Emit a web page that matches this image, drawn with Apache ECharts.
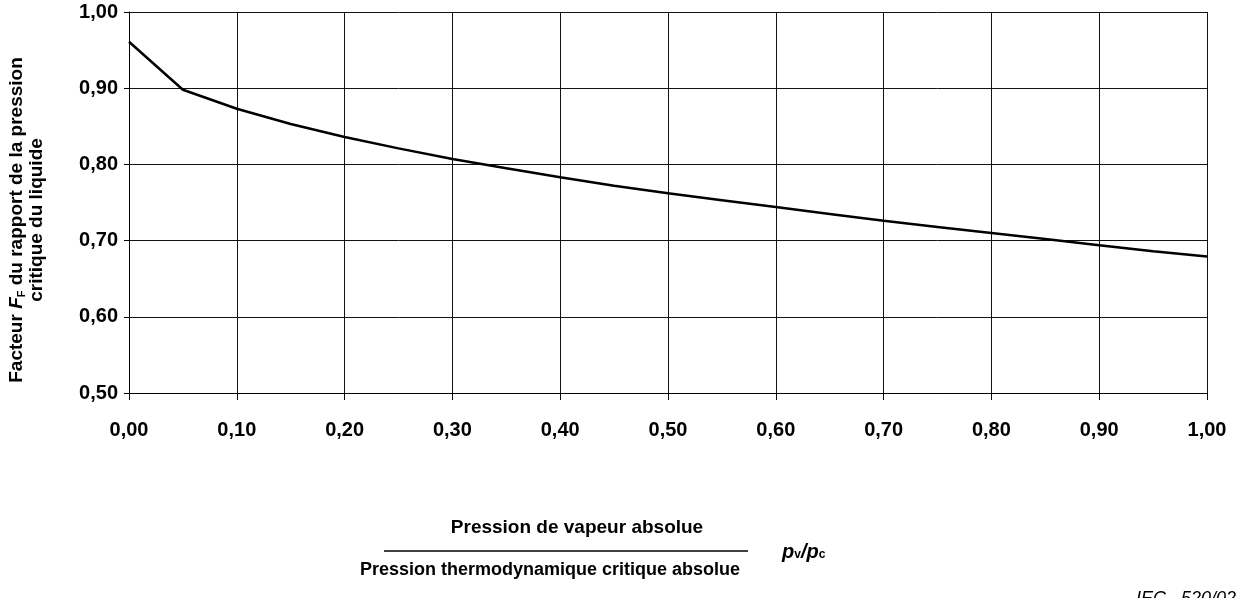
<!DOCTYPE html>
<html>
<head>
<meta charset="utf-8">
<style>
  html, body { margin: 0; padding: 0; background: #fff; }
  #chart { width: 1244px; height: 598px; }
</style>
<script src="https://cdn.jsdelivr.net/npm/echarts@6/dist/echarts.min.js"></script>
</head>
<body>
<div id="chart"></div>
<script>
// Ratio pv/pc (abscissa) and liquid critical pressure ratio factor FF
const ratioPvPc = [0.00, 0.05, 0.10, 0.15, 0.20, 0.25, 0.30, 0.35, 0.40, 0.45, 0.50,
                   0.55, 0.60, 0.65, 0.70, 0.75, 0.80, 0.85, 0.90, 0.95, 1.00];
const factorFF  = [0.961, 0.898, 0.873, 0.853, 0.836, 0.821, 0.807, 0.795, 0.783, 0.772, 0.762,
                   0.753, 0.744, 0.735, 0.726, 0.718, 0.710, 0.702, 0.694, 0.686, 0.679];

const FONT = "'Liberation Sans', Arial, Helvetica, sans-serif";
const fmt = v => v.toFixed(2).replace('.', ',');

const chart = echarts.init(document.getElementById('chart'), null, { renderer: 'canvas' });

chart.setOption({
  backgroundColor: '#ffffff',
  animation: false,
  grid: { left: 129, right: 37, top: 12, bottom: 205 },
  xAxis: {
    type: 'value',
    min: 0, max: 1, interval: 0.1,
    axisLine: { show: true, lineStyle: { color: '#000', width: 1 } },
    axisTick: { show: true, length: 7, lineStyle: { color: '#000', width: 1 } },
    splitLine: { show: true, lineStyle: { color: '#111', width: 1 } },
    axisLabel: { formatter: fmt, color: '#000', fontFamily: FONT, fontWeight: 'bold', fontSize: 20, margin: 27 }
  },
  yAxis: {
    type: 'value',
    min: 0.5, max: 1, interval: 0.1,
    axisLine: { show: true, lineStyle: { color: '#000', width: 1 } },
    axisTick: { show: true, length: 5, lineStyle: { color: '#000', width: 1 } },
    splitLine: { show: true, lineStyle: { color: '#111', width: 1 } },
    axisLabel: { formatter: fmt, color: '#000', fontFamily: FONT, fontWeight: 'bold', fontSize: 20, margin: 11 }
  },
  series: [{
    type: 'line',
    data: ratioPvPc.map((x, i) => [x, factorFF[i]]),
    showSymbol: false,
    lineStyle: { color: '#000', width: 2.5 },
    silent: true
  }],
  graphic: [
    {
      type: 'text',
      x: 27, y: 220,
      rotation: Math.PI / 2,
      style: {
        text: 'Facteur {i|F}{sub|F} du rapport de la pression\ncritique du liquide',
        fill: '#000',
        font: 'bold 19px ' + FONT,
        align: 'center',
        verticalAlign: 'middle',
        lineHeight: 20,
        rich: {
          i: { fontStyle: 'italic', fontWeight: 'bold', fontSize: 19, fontFamily: FONT },
          sub: { fontWeight: 'bold', fontSize: 11, fontFamily: FONT, padding: [9, 0, 0, 0] }
        }
      }
    },
    {
      type: 'text',
      x: 577, y: 528,
      style: {
        text: 'Pression de vapeur absolue',
        fill: '#000', font: 'bold 19px ' + FONT,
        align: 'center', verticalAlign: 'middle'
      }
    },
    {
      type: 'line',
      shape: { x1: 384, y1: 551, x2: 748, y2: 551 },
      style: { stroke: '#000', lineWidth: 1.5 }
    },
    {
      type: 'text',
      x: 782, y: 552,
      style: {
        text: '{p|p}{s|v}{p|/p}{s|c}',
        fill: '#000',
        align: 'left', verticalAlign: 'middle',
        rich: {
          p: { fontStyle: 'italic', fontWeight: 'bold', fontSize: 20, fontFamily: FONT },
          s: { fontWeight: 'bold', fontSize: 12, fontFamily: FONT, padding: [6, 0, 0, 0] }
        }
      }
    },
    {
      type: 'text',
      x: 550, y: 570,
      style: {
        text: 'Pression thermodynamique critique absolue',
        fill: '#000', font: 'bold 18px ' + FONT,
        align: 'center', verticalAlign: 'middle'
      }
    },
    {
      type: 'text',
      x: 1236, y: 590,
      style: {
        text: 'IEC   520/02',
        fill: '#000', font: 'italic 18px ' + FONT,
        align: 'right', verticalAlign: 'top'
      }
    }
  ]
});
</script>
</body>
</html>
